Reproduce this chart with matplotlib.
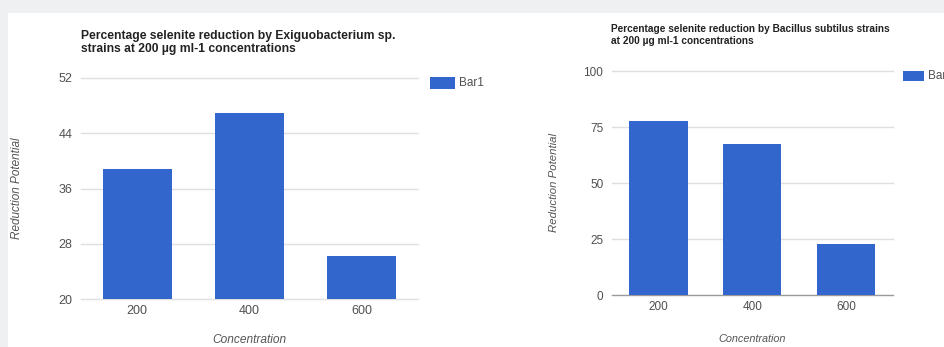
import numpy as np
import matplotlib
matplotlib.use("Agg")
import matplotlib.pyplot as plt
import matplotlib.patches as mpatches

plt.rcParams['font.family'] = ['Liberation Sans', 'DejaVu Sans']

# data
concentrations = ["200", "400", "600"]
exiguo_values = [38.8, 46.9, 26.3]
bacillus_values = [77.7, 67.5, 22.9]
exiguo_ticks = [20, 28, 36, 44, 52]
bacillus_ticks = [0, 25, 50, 75, 100]

title_left = "Percentage selenite reduction by Exiguobacterium sp.\nstrains at 200 \u00b5g ml-1 concentrations"
title_right = "Percentage selenite reduction by Bacillus subtilus strains\nat 200 \u00b5g ml-1 concentrations"
legend_label = "Bar1"

W, H = 944, 347
BAR = "#3366cc"
GRID = "#e0e0e0"
TXT = "#505050"

fig = plt.figure(figsize=(W / 100, H / 100), dpi=100)
fig.patch.set_facecolor("#eef0f2")
# white page area
fig.patches.append(mpatches.Rectangle((8 / W, 0), 1, 1 - 13 / H, transform=fig.transFigure,
                                      facecolor="white", edgecolor="none", zorder=-5))


def px_axes(x0, y0, x1, y1):
    # pixel box (top-left origin) -> figure axes
    return fig.add_axes([x0 / W, 1 - y1 / H, (x1 - x0) / W, (y1 - y0) / H])


def draw_chart(ax, values, ticks, width, dark_base, fs):
    x = np.arange(len(concentrations))
    ax.bar(x, values, width=width, color=BAR, zorder=3)
    ax.set_xlim(-0.5, len(concentrations) - 0.5)
    ax.set_ylim(ticks[0], ticks[-1])
    ax.set_yticks(ticks)
    ax.set_xticks(x)
    ax.set_xticklabels(concentrations)
    ax.patch.set_visible(False)
    for s in ax.spines.values():
        s.set_visible(False)
    ax.tick_params(length=0, labelsize=fs, labelcolor=TXT, pad=6)
    ax.tick_params(axis="x", pad=4)
    for t in ticks:
        c = "#999999" if (dark_base and t == ticks[0]) else GRID
        ax.axhline(t, color=c, lw=1, zorder=1, clip_on=False)


# left chart
ax1 = px_axes(81, 78, 418, 299.3)
draw_chart(ax1, exiguo_values, exiguo_ticks, 0.614, False, 9)
fig.text(81 / W, 1 - 30 / H, title_left, ha="left", va="top", fontsize=8.7,
         fontweight="bold", color="#222222", linespacing=1.15)
fig.text(17 / W, 1 - 188 / H, "Reduction Potential", rotation=90, ha="center", va="center",
         fontsize=8.5, style="italic", color="#555555")
fig.text(249.5 / W, 1 - 340 / H, "Concentration", ha="center", va="center",
         fontsize=8.6, style="italic", color="#555555")
fig.patches.append(mpatches.Rectangle((430 / W, 1 - 89 / H), 25 / W, 12 / H,
                                      transform=fig.transFigure, facecolor=BAR, edgecolor="none"))
fig.text(459 / W, 1 - 83 / H, legend_label, ha="left", va="center", fontsize=8.5, color=TXT)

# right chart
ax2 = px_axes(611.7, 71, 892.7, 295)
draw_chart(ax2, bacillus_values, bacillus_ticks, 0.62, True, 8.5)
fig.text(611 / W, 1 - 24 / H, title_right, ha="left", va="top", fontsize=7.3,
         fontweight="bold", color="#222222", linespacing=1.2)
fig.text(554 / W, 1 - 183 / H, "Reduction Potential", rotation=90, ha="center", va="center",
         fontsize=8.2, style="italic", color="#555555")
fig.text(752 / W, 1 - 339 / H, "Concentration", ha="center", va="center",
         fontsize=7.8, style="italic", color="#555555")
fig.patches.append(mpatches.Rectangle((903 / W, 1 - 81 / H), 21 / W, 10 / H,
                                      transform=fig.transFigure, facecolor=BAR, edgecolor="none"))
fig.text(928 / W, 1 - 76 / H, legend_label, ha="left", va="center", fontsize=8.5, color=TXT)

fig.savefig("out.png", dpi=100)
